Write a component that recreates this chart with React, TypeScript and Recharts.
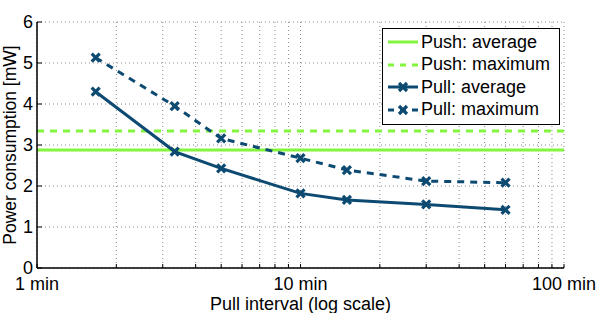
import React from "react";
import {
  LineChart,
  Line,
  XAxis,
  YAxis,
  CartesianGrid,
  ReferenceLine,
  Legend,
} from "recharts";

// pull interval in minutes (100 s, 200 s, 5, 10, 15, 30, 60 min)
const intervals = [1.67, 3.33, 5, 10, 15, 30, 60];
const pullAverage = [4.3, 2.84, 2.43, 1.82, 1.66, 1.55, 1.42];
const pullMaximum = [5.13, 3.95, 3.16, 2.68, 2.39, 2.12, 2.08];
const pushAverage = 2.88;
const pushMaximum = 3.34;

const xTicks = [1, 2, 3, 4, 5, 6, 7, 8, 9, 10, 20, 30, 40, 50, 60, 70, 80, 90, 100];
const xLabels: Record<number, string> = { 1: "1 min", 10: "10 min", 100: "100 min" };
const yTicks = [0, 1, 2, 3, 4, 5, 6];

const legendItems = [
  { label: "Push: average", kind: "push", dashed: false },
  { label: "Push: maximum", kind: "push", dashed: true },
  { label: "Pull: average", kind: "pull", dashed: false },
  { label: "Pull: maximum", kind: "pull", dashed: true },
];

const GREEN = "#82f53c";
const NAVY = "#0d4a72";
const FONT = "'Liberation Sans', Arial, sans-serif";

const rows = intervals.map((x, i) => ({
  x,
  avg: pullAverage[i],
  max: pullMaximum[i],
}));

function XMark(props: any) {
  const { cx, cy, stroke } = props;
  if (cx == null || cy == null) return null;
  const s = 4;
  return (
    <path
      d={`M${cx - s},${cy - s}L${cx + s},${cy + s}M${cx - s},${cy + s}L${cx + s},${cy - s}`}
      stroke={stroke}
      strokeWidth={3.2}
      fill="none"
    />
  );
}

function YLabel(props: any) {
  const vb = props.viewBox || { x: 0, y: 22, width: 37, height: 246 };
  const cx = 10;
  const cy = vb.y + vb.height / 2;
  return (
    <text
      x={cx}
      y={cy}
      transform={`rotate(-90 ${cx} ${cy})`}
      textAnchor="middle"
      dominantBaseline="central"
      fill="#000"
      fontSize={17.5}
      fontFamily={FONT}
    >
      Power consumption [mW]
    </text>
  );
}

function LegendBox() {
  return (
    <div
      style={{
        width: 176,
        border: "1px solid #000",
        background: "#fff",
        fontFamily: FONT,
        fontSize: 18,
        padding: "2px 0 3px 0",
      }}
    >
      {legendItems.map((it) => {
        const color = it.kind === "push" ? GREEN : NAVY;
        return (
          <div
            key={it.label}
            style={{ display: "flex", alignItems: "center", height: 22.5 }}
          >
            <svg width={38} height={14} style={{ flex: "none" }}>
              <line
                x1={5}
                y1={7}
                x2={35}
                y2={7}
                stroke={color}
                strokeWidth={3}
                strokeDasharray={it.dashed ? "6 6" : undefined}
              />
              {it.kind === "pull" && <XMark cx={20} cy={7} stroke={color} />}
            </svg>
            <span style={{ color: "#000", whiteSpace: "nowrap" }}>{it.label}</span>
          </div>
        );
      })}
    </div>
  );
}

export default function App() {
  return (
    <div style={{ position: "absolute", left: 0, top: 0, background: "#fff" }}>
      <LineChart
        width={598}
        height={313}
        data={rows}
        margin={{ top: 22, right: 34, left: 0, bottom: 0 }}
        style={{ fontFamily: FONT }}
      >
        <CartesianGrid stroke="#8a8a8a" strokeDasharray="1 3" strokeWidth={1} />
        <XAxis
          dataKey="x"
          type="number"
          scale="log"
          domain={[1, 100]}
          allowDataOverflow
          ticks={xTicks}
          interval={0}
          tickFormatter={(v: number) => xLabels[v] ?? ""}
          height={45}
          axisLine={{ stroke: "#000", strokeWidth: 1.5 }}
          tickLine={{ stroke: "#000" }}
          tickSize={-4}
          tickMargin={13}
          tick={{ fill: "#000", fontSize: 18 }}
          label={{
            value: "Pull interval (log scale)",
            position: "insideBottom",
            offset: 3,
            fill: "#000",
            fontSize: 18,
          }}
        />
        <XAxis
          xAxisId="top"
          orientation="top"
          dataKey="x"
          type="number"
          scale="log"
          domain={[1, 100]}
          allowDataOverflow
          ticks={xTicks}
          interval={0}
          tickFormatter={() => ""}
          height={0}
          axisLine={{ stroke: "#000", strokeWidth: 1.5 }}
          tickLine={{ stroke: "#000" }}
          tickSize={-4}
        />
        <YAxis
          type="number"
          domain={[0, 6]}
          ticks={yTicks}
          width={37}
          axisLine={{ stroke: "#000", strokeWidth: 1.5 }}
          tickLine={{ stroke: "#000" }}
          tickSize={-5}
          tickMargin={9}
          tick={{ fill: "#000", fontSize: 18 }}
          label={<YLabel />}
        />
        <YAxis
          yAxisId="right"
          orientation="right"
          type="number"
          domain={[0, 6]}
          ticks={yTicks}
          width={0}
          tickFormatter={() => ""}
          axisLine={{ stroke: "#000", strokeWidth: 1.5 }}
          tickLine={{ stroke: "#000" }}
          tickSize={-5}
        />
        <ReferenceLine
          y={pushAverage}
          stroke={GREEN}
          strokeWidth={3}
          ifOverflow="hidden"
        />
        <ReferenceLine
          y={pushMaximum}
          stroke={GREEN}
          strokeWidth={3}
          strokeDasharray="7 6"
          ifOverflow="hidden"
        />
        <Line
          dataKey="max"
          stroke={NAVY}
          strokeWidth={3}
          strokeDasharray="7 6"
          dot={<XMark />}
          isAnimationActive={false}
          legendType="none"
        />
        <Line
          dataKey="avg"
          stroke={NAVY}
          strokeWidth={3}
          dot={<XMark />}
          isAnimationActive={false}
          legendType="none"
        />
        <Legend
          layout="vertical"
          align="center"
          verticalAlign="middle"
          content={() => <LegendBox />}
          wrapperStyle={{ position: "absolute", left: 382, top: 28, width: "auto" }}
        />
      </LineChart>
    </div>
  );
}
